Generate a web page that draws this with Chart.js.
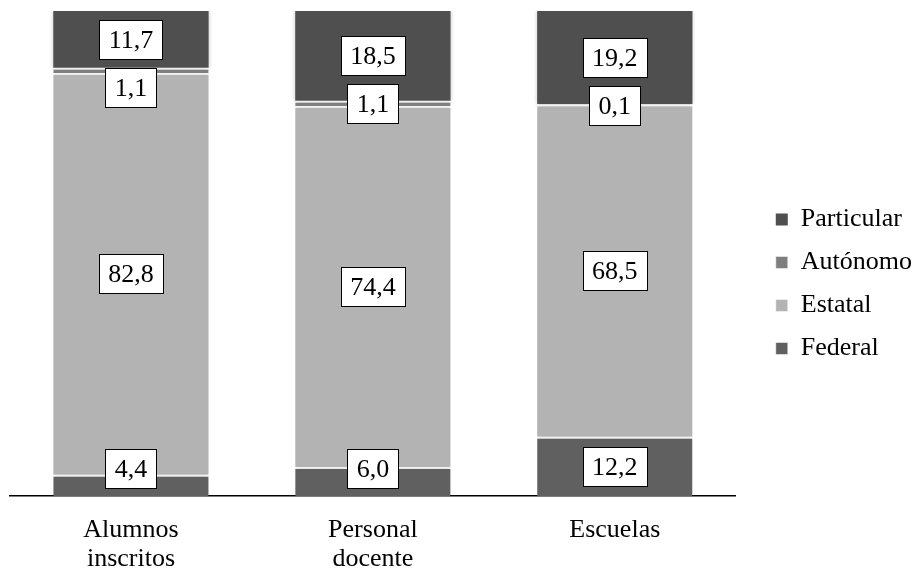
<!DOCTYPE html>
<html>
<head>
<meta charset="utf-8">
<script src="https://cdn.jsdelivr.net/npm/chart.js@4.4.1/dist/chart.umd.min.js"></script>
<style>
  html, body { margin: 0; padding: 0; background: #fff; }
  #contenedor { width: 916px; height: 568px; }
</style>
</head>
<body>
<div id="contenedor"><canvas id="grafica"></canvas></div>
<script>
var categorias = [['Alumnos', 'inscritos'], ['Personal', 'docente'], 'Escuelas'];
var federal = [4.4, 6.0, 12.2];
var estatal = [82.8, 74.4, 68.5];
var autonomo = [1.1, 1.1, 0.1];
var particular = [11.7, 18.5, 19.2];

var fuente = '"Liberation Serif", "Times New Roman", serif';

var colores = {
    federal: '#606060',
    estatal: '#b3b3b3',
    autonomo: '#7f7f7f',
    particular: '#4f4f4f'
};

// sombra suave alrededor de las barras
var sombra = {
    id: 'sombra',
    beforeDatasetsDraw: function (chart) {
        var ctx = chart.ctx;
        ctx.save();
        ctx.shadowColor = 'rgba(0, 0, 0, 0.22)';
        ctx.shadowBlur = 4;
    },
    afterDatasetsDraw: function (chart) {
        chart.ctx.restore();
    }
};

// etiquetas con recuadro blanco, de arriba hacia abajo sin encimarse
var etiquetas = {
    id: 'etiquetas',
    afterDatasetsDraw: function (chart) {
        var ctx = chart.ctx;
        var area = chart.chartArea;
        ctx.save();
        ctx.font = '26px ' + fuente;
        ctx.textAlign = 'center';
        ctx.textBaseline = 'middle';
        var h = 39;
        for (var i = 0; i < chart.data.labels.length; i++) {
            var limite = -Infinity;
            for (var d = chart.data.datasets.length - 1; d >= 0; d--) {
                var bar = chart.getDatasetMeta(d).data[i];
                var valor = chart.data.datasets[d].data[i];
                var texto = valor.toFixed(1).replace('.', ',');
                var w = Math.round(ctx.measureText(texto).width + 18);
                var arriba = (bar.y + bar.base) / 2 - h / 2;
                if (arriba < limite + 8) arriba = limite + 8;
                if (arriba + h > area.bottom - 8) arriba = area.bottom - 8 - h;
                var x0 = Math.round(bar.x - w / 2) + 0.5;
                var y0 = Math.round(arriba) + 0.5;
                ctx.fillStyle = '#fff';
                ctx.fillRect(x0, y0, w, h);
                ctx.strokeStyle = '#000';
                ctx.lineWidth = 1;
                ctx.strokeRect(x0, y0, w, h);
                ctx.fillStyle = '#000';
                ctx.fillText(texto, bar.x, y0 + h / 2 + 1);
                limite = y0 + h;
            }
        }
        ctx.restore();
    }
};

var ctx = document.getElementById('grafica').getContext('2d');

var bordeSuperior = { top: 2, left: 0, right: 0, bottom: 0 };

var grafica = new Chart(ctx, {
    type: 'bar',
    data: {
        labels: categorias,
        datasets: [
            { label: 'Federal', data: federal, backgroundColor: colores.federal, borderColor: '#fff', borderWidth: bordeSuperior },
            { label: 'Estatal', data: estatal, backgroundColor: colores.estatal, borderColor: '#fff', borderWidth: bordeSuperior },
            { label: 'Autónomo', data: autonomo, backgroundColor: colores.autonomo, borderColor: '#fff', borderWidth: bordeSuperior },
            { label: 'Particular', data: particular, backgroundColor: colores.particular, borderWidth: 0 }
        ]
    },
    options: {
        responsive: true,
        maintainAspectRatio: false,
        animation: false,
        layout: {
            padding: { left: 10, top: 0, right: -6, bottom: 0 }
        },
        datasets: {
            bar: { barPercentage: 0.642, categoryPercentage: 1 }
        },
        plugins: {
            // título vacío: solo deja margen arriba de las barras
            title: {
                display: true,
                text: '',
                fullSize: false,
                padding: 0,
                font: { size: 10, lineHeight: 1.1 }
            },
            legend: {
                position: 'right',
                reverse: true,
                labels: {
                    boxWidth: 12,
                    boxHeight: 12,
                    padding: 17,
                    color: '#000',
                    font: { family: fuente, size: 26 }
                }
            },
            tooltip: { enabled: false }
        },
        scales: {
            x: {
                stacked: true,
                grid: { display: false, drawTicks: false },
                border: { display: true, color: '#000', width: 1.5 },
                ticks: {
                    color: '#000',
                    font: { family: fuente, size: 26, lineHeight: 1.1 },
                    padding: 20,
                    maxRotation: 0,
                    autoSkip: false
                },
                afterFit: function (scale) { scale.height = 72; }
            },
            y: {
                stacked: true,
                min: 0,
                max: 100,
                position: 'right',
                grid: { display: false, drawTicks: false },
                border: { display: false },
                ticks: { display: false },
                afterFit: function (scale) { scale.width = 23; }
            }
        }
    },
    plugins: [sombra, etiquetas]
});
</script>
</body>
</html>
